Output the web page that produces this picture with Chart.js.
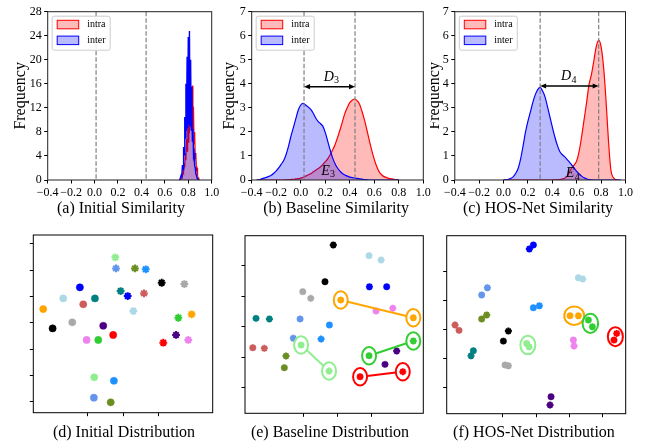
<!DOCTYPE html>
<html>
<head>
<meta charset="utf-8">
<script src="https://cdn.jsdelivr.net/npm/chart.js@4.4.0/dist/chart.umd.min.js"></script>
<style>
  body { margin: 0; background: #fff; }
  #fig { position: relative; width: 657px; height: 445px; overflow: hidden; background: #fff; }
  #fig canvas { position: absolute; }
  .cap { position: absolute; width: 240px; text-align: center; font: 16px "Liberation Serif", serif;
         line-height: 20px; color: #000; white-space: nowrap; }
</style>
</head>
<body>
<div id="fig">
  <canvas id="ca" width="219" height="225" style="left:0px;top:0px"></canvas>
  <canvas id="cb" width="219" height="225" style="left:219px;top:0px"></canvas>
  <canvas id="cc" width="227" height="225" style="left:430px;top:0px"></canvas>
  <canvas id="cd" width="219" height="220" style="left:0px;top:225px"></canvas>
  <canvas id="ce" width="219" height="220" style="left:219px;top:225px"></canvas>
  <canvas id="cf" width="227" height="220" style="left:430px;top:225px"></canvas>
  <div class="cap" style="left:1px;top:198px">(a) Initial Similarity</div>
  <div class="cap" style="left:216px;top:198px">(b) Baseline Similarity</div>
  <div class="cap" style="left:418px;top:198px">(c) HOS-Net Similarity</div>
  <div class="cap" style="left:4px;top:422px">(d) Initial Distribution</div>
  <div class="cap" style="left:210px;top:422px">(e) Baseline Distribution</div>
  <div class="cap" style="left:414px;top:422px">(f) HOS-Net Distribution</div>
</div>
<script>
var legendLabels = ["intra", "inter"];

// (a) initial similarity
var gridA = [0.72, 0.725, 0.73, 0.735, 0.74, 0.745, 0.75, 0.755, 0.76, 0.765, 0.77, 0.775, 0.78, 0.785, 0.79, 0.795,
  0.8, 0.805, 0.81, 0.815, 0.82, 0.825, 0.83, 0.835, 0.84, 0.845, 0.85, 0.855, 0.86, 0.865, 0.87, 0.875, 0.88, 0.885, 0.89, 0.895, 0.9];
var intraA = [0, 0, 0, 0.1, 0.2, 0.6, 0.6, 1.5, 1.2, 2.8, 2.1, 4.5, 3.3, 6.8, 4.8, 9.2, 6.3, 11.8, 7.8, 14.0, 8.9, 15.2,
  9.4, 15.7, 8.4, 12.2, 6.0, 8.0, 3.6, 4.5, 1.8, 2.0, 0.6, 0.4, 0, 0, 0];
var interA = [0, 0, 0.2, 0.2, 0.8, 0.6, 2.5, 1.8, 5.5, 4.2, 10.5, 7.0, 16, 8.2, 20.5, 8.6, 23.8, 9.2, 24.8, 9.0, 20, 8.3,
  15.5, 6.5, 8.5, 4.0, 4.5, 2.3, 2.0, 1.0, 0.8, 0.3, 0.2, 0.05, 0, 0, 0];
var meanA = [0.013, 0.44];

// (b) baseline similarity
var gridB = [-0.36, -0.34, -0.32, -0.30, -0.28, -0.26, -0.24, -0.22, -0.20, -0.18, -0.16, -0.14, -0.12, -0.10, -0.08,
  -0.06, -0.04, -0.02, 0.00, 0.02, 0.04, 0.06, 0.08, 0.10, 0.12, 0.14, 0.16, 0.18, 0.20, 0.22, 0.24, 0.26, 0.28, 0.30,
  0.32, 0.34, 0.36, 0.38, 0.40, 0.42, 0.44, 0.46, 0.48, 0.50, 0.52, 0.54, 0.56, 0.58, 0.60, 0.62, 0.64, 0.66, 0.68,
  0.70, 0.72, 0.74, 0.76, 0.78, 0.80];
var intraB = [0, 0, 0, 0, 0, 0, 0, 0, 0, 0, 0, 0, 0.005, 0.01, 0.02, 0.03, 0.045, 0.06, 0.08, 0.11, 0.16, 0.21, 0.26,
  0.33, 0.4, 0.47, 0.54, 0.64, 0.76, 0.88, 1.05, 1.25, 1.47, 1.76, 2.08, 2.42, 2.77, 3.02, 3.22, 3.32, 3.37, 3.3, 3.15,
  2.85, 2.5, 2.08, 1.64, 1.22, 0.86, 0.56, 0.34, 0.22, 0.14, 0.1, 0.07, 0.05, 0.03, 0.015, 0];
var interB = [0, 0.005, 0.05, 0.08, 0.11, 0.15, 0.2, 0.28, 0.38, 0.5, 0.65, 0.8, 1.05, 1.4, 1.82, 2.18, 2.55, 2.91,
  3.12, 3.19, 3.12, 3.04, 2.95, 2.8, 2.6, 2.45, 2.35, 2.24, 1.98, 1.62, 1.25, 0.92, 0.68, 0.5, 0.37, 0.27, 0.21, 0.16,
  0.12, 0.1, 0.08, 0.065, 0.05, 0.035, 0.02, 0.01, 0, 0, 0, 0, 0, 0, 0, 0, 0, 0, 0, 0, 0];
var meanB = [0.027, 0.443];
var gapB = 3.88;
var dTextB = [0.249, 4.12];
var eTextB = [0.222, 0.21];

// (c) HOS-Net similarity
var gridC = [0.00, 0.02, 0.04, 0.06, 0.08, 0.10, 0.12, 0.14, 0.16, 0.18, 0.20, 0.22, 0.24, 0.26, 0.28, 0.30, 0.32, 0.34,
  0.36, 0.38, 0.40, 0.42, 0.44, 0.46, 0.48, 0.50, 0.52, 0.54, 0.56, 0.58, 0.60, 0.62, 0.64, 0.66, 0.68, 0.70, 0.72, 0.74,
  0.76, 0.78, 0.80, 0.82, 0.84, 0.86, 0.88, 0.90, 0.92, 0.94, 0.96];
var intraC = [0, 0, 0, 0, 0, 0, 0, 0, 0, 0, 0, 0, 0, 0, 0, 0, 0, 0, 0, 0, 0, 0.005, 0.01, 0.02, 0.04, 0.07, 0.16, 0.33,
  0.52, 0.63, 0.8, 1.2, 1.8, 2.5, 3.19, 3.95, 4.37, 4.95, 5.55, 5.82, 5.54, 4.71, 3.33, 1.66, 0.42, 0.1, 0.02, 0, 0];
var interC = [0, 0.01, 0.03, 0.07, 0.14, 0.28, 0.49, 0.88, 1.42, 2.0, 2.45, 2.83, 3.23, 3.55, 3.76, 3.85, 3.7, 3.46,
  3.05, 2.63, 2.2, 1.8, 1.46, 1.2, 1.06, 0.97, 0.86, 0.74, 0.62, 0.49, 0.36, 0.25, 0.16, 0.09, 0.05, 0.02, 0.005,
  0, 0, 0, 0, 0, 0, 0, 0, 0, 0, 0, 0];
var meanC = [0.30, 0.78];
var gapC = 3.91;
var dTextC = [0.533, 4.14];
var eTextC = [0.566, 0.12];

// identities, same order in every distribution panel
var classColors = ["#ffa500", "#000000", "#add8e6", "#a9a9a9", "#0000ff", "#cd5c5c", "#008080", "#4b0082",
  "#ee82ee", "#32cd32", "#90ee90", "#ff0000", "#6495ed", "#1e90ff", "#6b8e23"];
var ringClasses = [0, 9, 10, 11];

// (d) initial distribution: visible (dots) and infrared (crosses)
var visXD = [-45.2, -39.9, -33.9, -28.8, -24.5, -22.6, -16.0, -11.3, -20.7, -14.1, -16.4, -5.7, -16.6, -5.3, -7.1];
var visYD = [10.4, -4.3, 18.5, 0.3, 26.9, 14.0, 18.5, -2.3, -13.1, -13.1, -41.5, -9.3, -57.0, -44.1, -60.5];
var irXD = [38.6, 21.7, 5.7, 34.5, 2.5, 11.7, -1.5, 29.8, 36.7, 31.1, -4.5, 22.6, -4.1, 12.7, 6.6];
var irYD = [6.4, 30.4, 8.9, 29.4, 20.3, 22.3, 24.1, -9.3, -13.1, 3.8, 49.7, -15.2, 41.3, 40.6, 41.3];

// (e) baseline distribution
var visXE = [1.9, -7.4, 18.6, -20.5, 29.0, -50.0, -48.1, 28.0, 22.7, 18.6, -21.5, 13.3, -22.1, -4.8, -31.4];
var visYE = [17.5, 29.5, 46.6, 23.0, 26.2, -13.8, 5.5, -24.7, 10.3, -19.0, -12.0, -32.8, 5.1, 1.1, -26.9];
var irXE = [44.7, -2.5, 25.7, -15.8, 18.8, -43.2, -40.2, 34.9, 32.6, 44.7, -5.0, 38.5, -26.1, -9.7, -30.4];
var irYE = [5.9, 53.6, 43.8, 18.6, 26.2, -14.2, 5.1, -15.9, 12.1, -9.4, -29.1, -29.5, -7.6, -8.1, -19.2];

// (f) HOS-Net distribution
var visXF = [20.4, -19.6, 25.4, -18.6, -1.6, -46.2, -37.6, 9.0, 22.4, 31.4, -5.6, 46.8, -32.6, -1.6, -32.6];
var visYF = [9.2, -8.3, 35.4, -24.8, 58.0, -0.9, -15.0, -46.7, -7.6, 6.2, -9.9, -7.6, 23.5, 14.7, 6.9];
var irXF = [25.4, -16.6, 28.0, -16.6, -4.0, -48.6, -39.0, 8.4, 22.8, 33.8, -4.2, 48.4, -29.2, 2.0, -29.6];
var irYF = [9.2, -1.4, 34.5, -25.3, 55.2, 2.8, -18.4, -52.4, -11.7, 1.6, -12.2, -3.0, 28.5, 16.1, 9.7];

var serif = '"Liberation Serif", "Times New Roman", serif';

function fixW(w) {
  return function (s) { s.width = w; s.paddingTop = 0; s.paddingBottom = 0; s.paddingLeft = 0; s.paddingRight = 0; };
}
function fixH(h) {
  return function (s) { s.height = h; s.paddingTop = 0; s.paddingBottom = 0; s.paddingLeft = 0; s.paddingRight = 0; };
}
function onlyMultiples(step) {
  return function (s) {
    s.ticks = s.ticks.filter(function (t) { return Math.abs(t.value / step - Math.round(t.value / step)) < 1e-6; });
  };
}
function pts(xs, ys) {
  return xs.map(function (x, i) { return { x: x, y: ys[i] }; });
}

function framePlugin(color) {
  return {
    id: "frame",
    afterDraw: function (chart) {
      var a = chart.chartArea, ctx = chart.ctx;
      ctx.save();
      ctx.strokeStyle = color;
      ctx.lineWidth = 1;
      ctx.strokeRect(a.left, a.top, a.right - a.left, a.bottom - a.top);
      ctx.restore();
    }
  };
}

function meanPlugin(means) {
  return {
    id: "means",
    afterDatasetsDraw: function (chart) {
      var sx = chart.scales.x, a = chart.chartArea, ctx = chart.ctx;
      ctx.save();
      ctx.strokeStyle = "#808080";
      ctx.lineWidth = 1.2;
      ctx.setLineDash([4.5, 2]);
      means.forEach(function (m) {
        var px = sx.getPixelForValue(m);
        ctx.beginPath();
        ctx.moveTo(px, a.top);
        ctx.lineTo(px, a.bottom);
        ctx.stroke();
      });
      ctx.restore();
    }
  };
}

function mathText(ctx, base, sub, cx, by) {
  ctx.font = "italic 14px " + serif;
  var w1 = ctx.measureText(base).width;
  ctx.font = "10px " + serif;
  var w2 = ctx.measureText(sub).width;
  var x0 = cx - (w1 + w2) / 2;
  ctx.fillStyle = "#000";
  ctx.textAlign = "left";
  ctx.textBaseline = "alphabetic";
  ctx.font = "italic 14px " + serif;
  ctx.fillText(base, x0, by);
  ctx.font = "10px " + serif;
  ctx.fillText(sub, x0 + w1 + 0.3, by + 2.5);
}

function gapPlugin(means, gap, dText, eText, sub) {
  return {
    id: "gap",
    afterDatasetsDraw: function (chart) {
      var sx = chart.scales.x, sy = chart.scales.y, ctx = chart.ctx;
      var x1 = sx.getPixelForValue(means[0]), x2 = sx.getPixelForValue(means[1]);
      var y = sy.getPixelForValue(gap);
      var hl = 6, hw = 2.6;
      ctx.save();
      ctx.strokeStyle = "#000";
      ctx.fillStyle = "#000";
      ctx.lineWidth = 1.5;
      ctx.beginPath();
      ctx.moveTo(x1 + hl - 1, y);
      ctx.lineTo(x2 - hl + 1, y);
      ctx.stroke();
      ctx.beginPath();
      ctx.moveTo(x1, y); ctx.lineTo(x1 + hl, y - hw); ctx.lineTo(x1 + hl, y + hw); ctx.closePath();
      ctx.fill();
      ctx.beginPath();
      ctx.moveTo(x2, y); ctx.lineTo(x2 - hl, y - hw); ctx.lineTo(x2 - hl, y + hw); ctx.closePath();
      ctx.fill();
      mathText(ctx, "D", sub, sx.getPixelForValue(dText[0]), sy.getPixelForValue(dText[1]));
      mathText(ctx, "E", sub, sx.getPixelForValue(eText[0]), sy.getPixelForValue(eText[1]));
      ctx.restore();
    }
  };
}

var legendPlugin = {
  id: "simLegend",
  afterDraw: function (chart) {
    var a = chart.chartArea, ctx = chart.ctx;
    var bx = a.left + 4.5, by = a.top + 4.5, bw = 58, bh = 34;
    var cols = [["rgba(255,0,0,0.27)", "#ff0000"], ["rgba(0,0,255,0.27)", "#0000ff"]];
    ctx.save();
    ctx.fillStyle = "rgba(255,255,255,0.85)";
    ctx.strokeStyle = "#cccccc";
    ctx.lineWidth = 1;
    ctx.beginPath();
    ctx.roundRect(bx, by, bw, bh, 2);
    ctx.fill();
    ctx.stroke();
    legendLabels.forEach(function (lab, i) {
      var cy = by + 8.3 + i * 15.8;
      ctx.fillStyle = "#fff";
      ctx.fillRect(bx + 5, cy - 4.2, 21.5, 8.5);
      ctx.fillStyle = cols[i][0];
      ctx.fillRect(bx + 5, cy - 4.2, 21.5, 8.5);
      ctx.strokeStyle = cols[i][1];
      ctx.lineWidth = 1;
      ctx.strokeRect(bx + 5, cy - 4.2, 21.5, 8.5);
      ctx.fillStyle = "#000";
      ctx.font = "10px " + serif;
      ctx.textAlign = "left";
      ctx.textBaseline = "middle";
      ctx.fillText(lab, bx + 35, cy);
    });
    ctx.restore();
  }
};

function simChart(id, grid, intra, inter, yMax, yStep, box, zig, plugins) {
  var curve = zig ? { tension: 0 } : { tension: 0.4, cubicInterpolationMode: "monotone" };
  var tickFont = { family: serif, size: 12 };
  return new Chart(document.getElementById(id), {
    type: "line",
    data: {
      datasets: [
        Object.assign({ label: "inter", data: pts(grid, inter), borderColor: "#0000ff",
          backgroundColor: "rgba(0,0,255,0.27)", fill: "origin", borderWidth: zig ? 1.4 : 1.2, pointRadius: 0 }, curve),
        Object.assign({ label: "intra", data: pts(grid, intra), borderColor: "#ff0000",
          backgroundColor: "rgba(255,0,0,0.27)", fill: "origin", borderWidth: zig ? 1.1 : 1.2, pointRadius: 0 }, curve)
      ]
    },
    options: {
      responsive: false, animation: false, events: [], devicePixelRatio: 1,
      layout: { autoPadding: false, padding: { left: 0, top: box.top, right: box.right, bottom: 0 } },
      plugins: { legend: { display: false }, tooltip: { enabled: false } },
      scales: {
        x: {
          type: "linear", min: -0.4, max: 1.0,
          ticks: { stepSize: 0.2, font: tickFont, color: "#000", padding: 2, maxRotation: 0, autoSkip: false,
            callback: function (v) { var r = Math.round(v * 10) / 10; return (r < 0 ? "\u2212" : "") + Math.abs(r).toFixed(1); } },
          grid: { drawOnChartArea: false, drawTicks: true, tickLength: 3.5, color: "#000", lineWidth: 1 },
          border: { display: false },
          afterFit: fixH(box.xh)
        },
        y: {
          type: "linear", min: 0, max: yMax,
          ticks: { stepSize: yStep, font: tickFont, color: "#000", padding: 2.5, autoSkip: false },
          grid: { drawOnChartArea: false, drawTicks: true, tickLength: 3.5, color: "#000", lineWidth: 1 },
          border: { display: false },
          title: { display: true, text: "Frequency", color: "#000", font: { family: serif, size: 16 },
            padding: { top: box.tp, bottom: 0 } },
          afterFit: fixW(box.yw)
        }
      }
    },
    plugins: plugins
  });
}

function ringPair(chart, c, vx, vy, ix, iy) {
  var sx = chart.scales.x, sy = chart.scales.y, ctx = chart.ctx;
  var rx = 7, ry = 8.7;
  var p1 = [sx.getPixelForValue(vx[c]), sy.getPixelForValue(vy[c])];
  var p2 = [sx.getPixelForValue(ix[c]), sy.getPixelForValue(iy[c])];
  var dx = p2[0] - p1[0], dy = p2[1] - p1[1], d = Math.sqrt(dx * dx + dy * dy);
  var ux = dx / d, uy = dy / d;
  var r = 1 / Math.sqrt((ux / rx) * (ux / rx) + (uy / ry) * (uy / ry));
  ctx.strokeStyle = classColors[c];
  ctx.lineWidth = 2;
  ctx.beginPath();
  ctx.ellipse(p1[0], p1[1], rx, ry, 0, 0, Math.PI * 2);
  ctx.stroke();
  ctx.beginPath();
  ctx.ellipse(p2[0], p2[1], rx, ry, 0, 0, Math.PI * 2);
  ctx.stroke();
  ctx.beginPath();
  ctx.moveTo(p1[0] + ux * r, p1[1] + uy * r);
  ctx.lineTo(p2[0] - ux * r, p2[1] - uy * r);
  ctx.stroke();
}

function ringJoint(chart, c, vx, vy, ix, iy) {
  var sx = chart.scales.x, sy = chart.scales.y, ctx = chart.ctx;
  var x1 = sx.getPixelForValue(vx[c]), y1 = sy.getPixelForValue(vy[c]);
  var x2 = sx.getPixelForValue(ix[c]), y2 = sy.getPixelForValue(iy[c]);
  var rx = Math.max(7.5, Math.abs(x2 - x1) / 2 + 5.8), ry = Math.max(9.3, Math.abs(y2 - y1) / 2 + 6.2);
  ctx.strokeStyle = classColors[c];
  ctx.lineWidth = 2;
  ctx.beginPath();
  ctx.ellipse((x1 + x2) / 2, (y1 + y2) / 2, rx, ry, 0, 0, Math.PI * 2);
  ctx.stroke();
}

function distChart(id, vx, vy, ix, iy, xr, yr, box, rad, ringMode) {
  var plugins = [framePlugin("#000")];
  if (ringMode) {
    plugins.push({
      id: "rings",
      afterDatasetsDraw: function (chart) {
        chart.ctx.save();
        ringClasses.forEach(function (c) { ringMode(chart, c, vx, vy, ix, iy); });
        chart.ctx.restore();
      }
    });
  }
  var axisBase = {
    type: "linear",
    ticks: { stepSize: 20, callback: function () { return ""; }, autoSkip: false, font: { size: 6 } },
    grid: { drawOnChartArea: false, drawTicks: true, tickLength: 3.5, color: "#000", lineWidth: 1 },
    border: { display: false },
    afterBuildTicks: onlyMultiples(20)
  };
  return new Chart(document.getElementById(id), {
    type: "scatter",
    data: {
      datasets: [
        { label: "infrared", data: pts(ix, iy), pointStyle: "star", pointRadius: rad + 0.3,
          pointBorderWidth: 2, borderColor: classColors, backgroundColor: classColors },
        { label: "visible", data: pts(vx, vy), pointStyle: "circle", pointRadius: rad,
          pointBorderWidth: 0.5, borderColor: classColors, backgroundColor: classColors }
      ]
    },
    options: {
      responsive: false, animation: false, events: [], devicePixelRatio: 1,
      layout: { autoPadding: false, padding: { left: 0, top: box.top, right: box.right, bottom: 0 } },
      plugins: { legend: { display: false }, tooltip: { enabled: false } },
      scales: {
        x: Object.assign({}, axisBase, { min: xr[0], max: xr[1], afterFit: fixH(box.xh) }),
        y: Object.assign({}, axisBase, { min: yr[0], max: yr[1], afterFit: fixW(box.yw) })
      }
    },
    plugins: plugins
  });
}

simChart("ca", gridA, intraA, interA, 28, 4, { top: 11.7, right: 7.3, xh: 45, yw: 47.7, tp: 11.2 }, true,
  [meanPlugin(meanA), framePlugin("#222"), legendPlugin]);
simChart("cb", gridB, intraB, interB, 7, 1, { top: 11.7, right: 14.7, xh: 45, yw: 32.7, tp: 1.4 }, false,
  [meanPlugin(meanB), gapPlugin(meanB, gapB, dTextB, eTextB, "3"), framePlugin("#222"), legendPlugin]);
simChart("cc", gridC, intraC, interC, 7, 1, { top: 11.7, right: 31.5, xh: 45, yw: 24.8, tp: -4.6 }, false,
  [meanPlugin(meanC), gapPlugin(meanC, gapC, dTextC, eTextC, "4"), framePlugin("#222"), legendPlugin]);

distChart("cd", visXD, visYD, irXD, irYD, [-50.8, 50.5], [-68.4, 66.7],
  { top: 10, right: 6.3, xh: 32.3, yw: 33.3 }, 3.6, null);
distChart("ce", visXE, visYE, irXE, irYE, [-54.6, 50.6], [-56.8, 59.7],
  { top: 10.7, right: 14.7, xh: 31.7, yw: 26 }, 3.2, ringPair);
distChart("cf", visXF, visYF, irXF, irYF, [-53.6, 53.8], [-58.4, 64.4],
  { top: 10.7, right: 31.3, xh: 31.3, yw: 16.7 }, 3.2, ringJoint);
</script>
</body>
</html>
